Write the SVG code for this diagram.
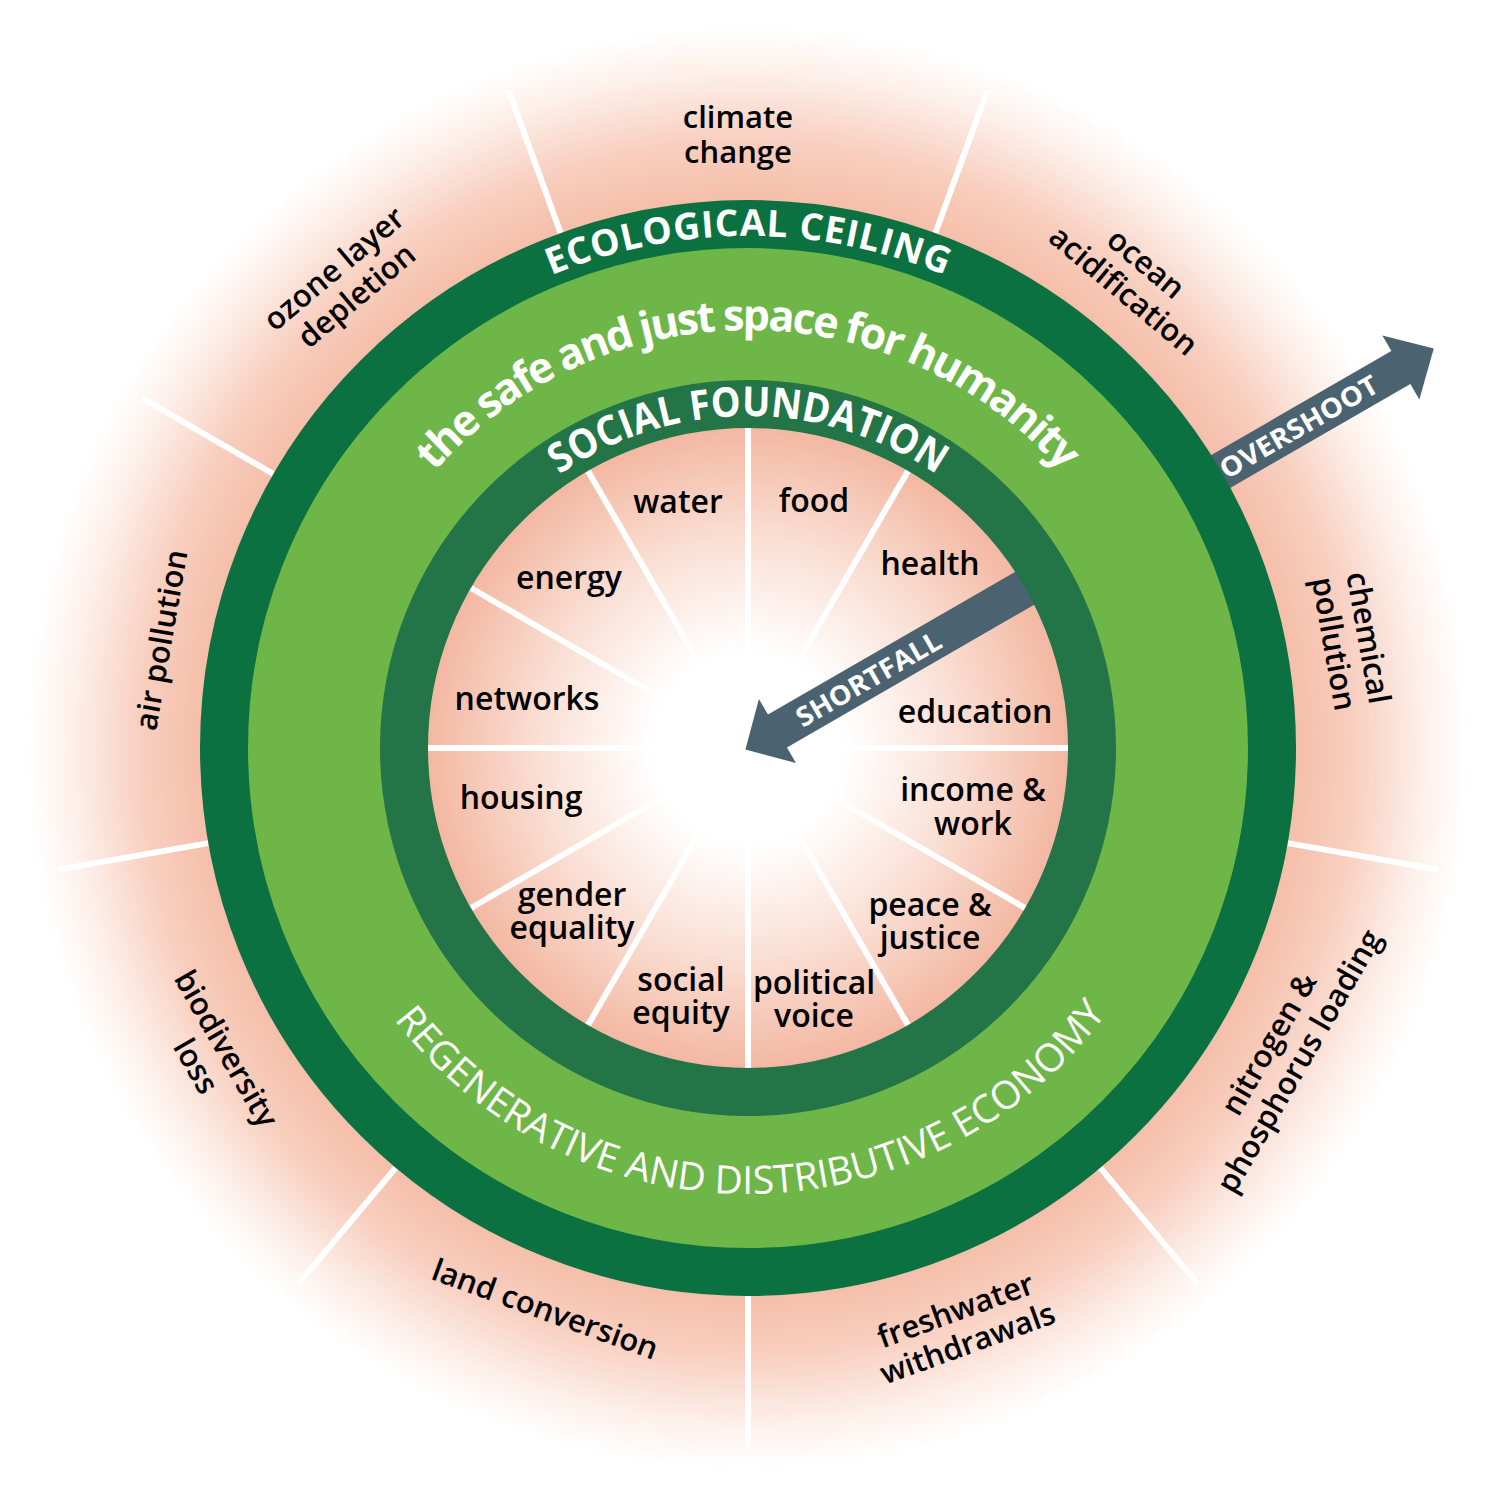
<svg xmlns="http://www.w3.org/2000/svg" width="1500" height="1500" viewBox="0 0 1500 1500">
<defs>
  <radialGradient id="outerGrad" cx="748" cy="748" r="720" gradientUnits="userSpaceOnUse">
    <stop offset="0.74" stop-color="#F4BBA5"/>
    <stop offset="0.84" stop-color="#F8CEBE"/>
    <stop offset="0.94" stop-color="#FDF0EA"/>
    <stop offset="1" stop-color="#FFFFFF"/>
  </radialGradient>
  <radialGradient id="innerGrad" cx="748" cy="748" r="322" gradientUnits="userSpaceOnUse">
    <stop offset="0" stop-color="#FFFFFF"/>
    <stop offset="0.3" stop-color="#FFFFFF"/>
    <stop offset="0.65" stop-color="#FADFD4"/>
    <stop offset="1" stop-color="#F3B7A1"/>
  </radialGradient>
  <path id="arcEco" d="M551.2,275.3 A512,512 0 0,1 944.8,275.3"/>
  <path id="arcSafe" d="M434.5,471.6 A418,418 0 0,1 1061.5,471.6"/>
  <path id="arcSocial" d="M559.5,474.7 A332,332 0 0,1 936.5,474.7"/>
  <path id="arcRegen" d="M394.2,1019.5 A446,446 0 0,0 1106.5,1013.3"/>
</defs>
<style>
  .lbl{font-family:"Open Sans","Noto Sans","DejaVu Sans",sans-serif;font-size:32px;font-weight:600;fill:#000;text-anchor:middle}
  .olbl{font-family:"Open Sans","Noto Sans","DejaVu Sans",sans-serif;font-size:31px;font-weight:600;fill:#000;text-anchor:middle}
  .div{stroke:#FFFFFF;stroke-width:6}
  .idiv{stroke:#FFFFFF;stroke-width:6}
  .ring{font-family:"Open Sans","Noto Sans","DejaVu Sans",sans-serif;fill:#FFFFFF}
  .arrow{fill:#4B6270}
  .atext{font-family:"Open Sans","Noto Sans","DejaVu Sans",sans-serif;font-size:27px;font-weight:700;fill:#FFFFFF;text-anchor:middle}
</style>

<g id="background">
  <circle cx="748" cy="748" r="720" fill="url(#outerGrad)"/>
</g>

<g id="connectors">
  <g id="outer-dividers" class="div">
    <line x1="748" y1="200" x2="748" y2="48" transform="rotate(20 748 748)"/>
    <line x1="748" y1="200" x2="748" y2="48" transform="rotate(60 748 748)"/>
    <line x1="748" y1="200" x2="748" y2="48" transform="rotate(100 748 748)"/>
    <line x1="748" y1="200" x2="748" y2="48" transform="rotate(140 748 748)"/>
    <line x1="748" y1="200" x2="748" y2="48" transform="rotate(180 748 748)"/>
    <line x1="748" y1="200" x2="748" y2="48" transform="rotate(220 748 748)"/>
    <line x1="748" y1="200" x2="748" y2="48" transform="rotate(260 748 748)"/>
    <line x1="748" y1="200" x2="748" y2="48" transform="rotate(300 748 748)"/>
    <line x1="748" y1="200" x2="748" y2="48" transform="rotate(340 748 748)"/>
  </g>
</g>

<g id="safe-space">
  <circle cx="748" cy="748" r="501" fill="#6DB647"/>
</g>

<g id="inner-core">
  <circle cx="748" cy="748" r="322" fill="url(#innerGrad)"/>
  <g class="idiv">
    <line x1="748" y1="688" x2="748" y2="424"/>
    <line x1="748" y1="688" x2="748" y2="424" transform="rotate(30 748 748)"/>
    <line x1="748" y1="688" x2="748" y2="424" transform="rotate(60 748 748)"/>
    <line x1="748" y1="688" x2="748" y2="424" transform="rotate(90 748 748)"/>
    <line x1="748" y1="688" x2="748" y2="424" transform="rotate(120 748 748)"/>
    <line x1="748" y1="688" x2="748" y2="424" transform="rotate(150 748 748)"/>
    <line x1="748" y1="688" x2="748" y2="424" transform="rotate(180 748 748)"/>
    <line x1="748" y1="688" x2="748" y2="424" transform="rotate(210 748 748)"/>
    <line x1="748" y1="688" x2="748" y2="424" transform="rotate(240 748 748)"/>
    <line x1="748" y1="688" x2="748" y2="424" transform="rotate(270 748 748)"/>
    <line x1="748" y1="688" x2="748" y2="424" transform="rotate(300 748 748)"/>
    <line x1="748" y1="688" x2="748" y2="424" transform="rotate(330 748 748)"/>
  </g>
</g>

<g id="overshoot-arrow" transform="translate(747,745) rotate(-30)">
  <path class="arrow" d="M530,-19 L755,-19 L755,-37 L793,0 L755,37 L755,19 L530,19 Z"/>
  <text class="atext" x="637" y="10" textLength="178" lengthAdjust="spacingAndGlyphs">OVERSHOOT</text>
</g>

<g id="shortfall-arrow" transform="translate(748,748) rotate(-30)">
  <path class="arrow" d="M335,-19 L34,-19 L34,-37 L-3,0 L34,37 L34,19 L335,19 Z"/>
  <text class="atext" x="139" y="10" textLength="163" lengthAdjust="spacingAndGlyphs">SHORTFALL</text>
</g>

<g id="ecological-ceiling">
  <circle cx="748" cy="748" r="524" fill="none" stroke="#0B7140" stroke-width="48"/>
  <text class="ring" font-size="37" font-weight="700"><textPath href="#arcEco" textLength="404" lengthAdjust="spacing">ECOLOGICAL CEILING</textPath></text>
</g>

<g id="social-foundation">
  <circle cx="748" cy="748" r="344" fill="none" stroke="#237446" stroke-width="48"/>
  <text class="ring" font-size="41" font-weight="700"><textPath href="#arcSocial" textLength="401" lengthAdjust="spacingAndGlyphs">SOCIAL FOUNDATION</textPath></text>
</g>

<g id="safe-space-label">
  <text class="ring" font-size="43" font-weight="700"><textPath href="#arcSafe" textLength="709" lengthAdjust="spacing">the safe and just space for humanity</textPath></text>
</g>

<g id="regenerative-label">
  <text class="ring" font-size="39" font-weight="400"><textPath href="#arcRegen" textLength="825" lengthAdjust="spacingAndGlyphs">REGENERATIVE AND DISTRIBUTIVE ECONOMY</textPath></text>
</g>

<g id="social-labels">
  <g id="water"><text class="lbl" x="678" y="513">water</text></g>
  <g id="food"><text class="lbl" x="814" y="512">food</text></g>
  <g id="health"><text class="lbl" x="930" y="575">health</text></g>
  <g id="energy"><text class="lbl" x="569" y="589">energy</text></g>
  <g id="networks"><text class="lbl" x="527" y="710">networks</text></g>
  <g id="education"><text class="lbl" x="975" y="723">education</text></g>
  <g id="housing"><text class="lbl" x="521" y="809">housing</text></g>
  <g id="income-work"><text class="lbl" x="973" y="801">income &amp;</text><text class="lbl" x="973" y="835">work</text></g>
  <g id="gender-equality"><text class="lbl" x="572" y="906">gender</text><text class="lbl" x="572" y="939">equality</text></g>
  <g id="peace-justice"><text class="lbl" x="930" y="916">peace &amp;</text><text class="lbl" x="930" y="949">justice</text></g>
  <g id="social-equity"><text class="lbl" x="681" y="991">social</text><text class="lbl" x="681" y="1024">equity</text></g>
  <g id="political-voice"><text class="lbl" x="814" y="994">political</text><text class="lbl" x="814" y="1027">voice</text></g>
</g>

<g id="ecological-labels">
  <g id="climate-change" transform="translate(738,136)"><text class="olbl" y="-8">climate</text><text class="olbl" y="27">change</text></g>
  <g id="ocean-acidification" transform="translate(1134,278) rotate(40)"><text class="olbl" y="-8">ocean</text><text class="olbl" y="27">acidification</text></g>
  <g id="chemical-pollution" transform="translate(1350,641) rotate(80)"><text class="olbl" y="-8">chemical</text><text class="olbl" y="27">pollution</text></g>
  <g id="nitrogen-phosphorus" transform="translate(1285,1053) rotate(-60)"><text class="olbl" y="-8">nitrogen &amp;</text><text class="olbl" y="27">phosphorus loading</text></g>
  <g id="freshwater-withdrawals" transform="translate(962,1328) rotate(-20)"><text class="olbl" y="-8">freshwater</text><text class="olbl" y="27">withdrawals</text></g>
  <g id="land-conversion" transform="translate(545,1310) rotate(20)"><text class="olbl" y="10">land conversion</text></g>
  <g id="biodiversity-loss" transform="translate(210,1058) rotate(60)"><text class="olbl" y="-8">biodiversity</text><text class="olbl" y="27">loss</text></g>
  <g id="air-pollution" transform="translate(162,640) rotate(-80)"><text class="olbl" y="10">air pollution</text></g>
  <g id="ozone-depletion" transform="translate(346,283) rotate(-40)"><text class="olbl" y="-8">ozone layer</text><text class="olbl" y="27">depletion</text></g>
</g>
</svg>
